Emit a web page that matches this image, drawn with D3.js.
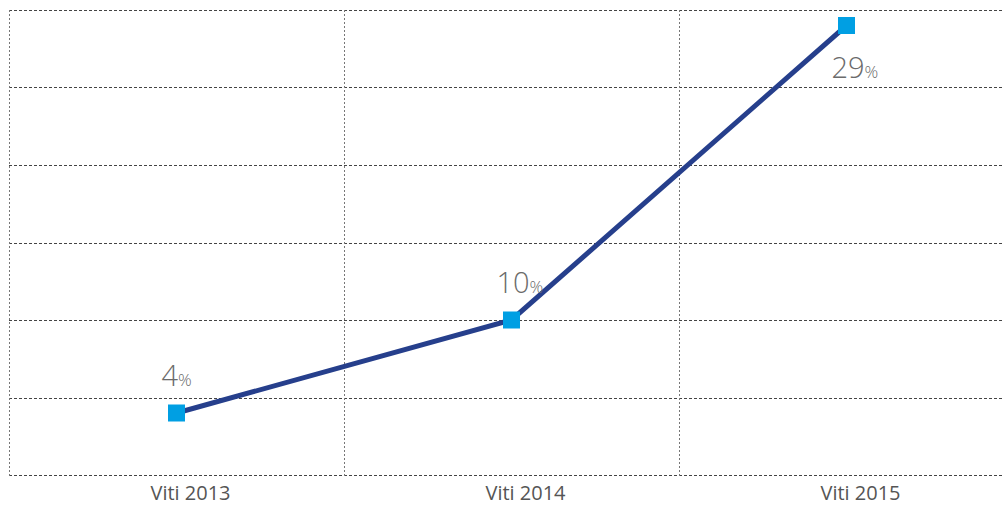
<!DOCTYPE html>
<html>
<head>
<meta charset="utf-8">
<script src="https://cdn.jsdelivr.net/npm/d3@7"></script>
<style>
  body { margin: 0; background: #fff; }
  text { font-family: "Open Sans", "Noto Sans", sans-serif; }
</style>
</head>
<body>
<script>
//Data
var categories = ["Viti 2013", "Viti 2014", "Viti 2015"];
var values = [4, 10, 29];
var yTicks = [0, 5, 10, 15, 20, 25, 30];

//Width and height
var w = 1006;
var h = 505;
var margin = {top: 10, right: -8, bottom: 30, left: 9};

var svg = d3.select("body")
            .append("svg")
            .attr("width", w)
            .attr("height", h);

var x = d3.scaleBand()
          .domain(categories)
          .range([margin.left, w - margin.right])
          .padding(0);

var y = d3.scaleLinear()
          .domain([0, 30])
          .range([h - margin.bottom, margin.top]);

//Horizontal grid
svg.append("g")
   .selectAll("line")
   .data(yTicks)
   .enter()
   .append("line")
   .attr("x1", margin.left)
   .attr("x2", 1004)
   .attr("y1", function(d) { return Math.round(y(d)) + 0.5; })
   .attr("y2", function(d) { return Math.round(y(d)) + 0.5; })
   .attr("stroke", "#444")
   .attr("stroke-width", 1)
   .attr("stroke-dasharray", "3,2");

//Vertical grid (band edges)
svg.append("g")
   .selectAll("line")
   .data(categories)
   .enter()
   .append("line")
   .attr("x1", function(d) { return Math.round(x(d)) + 0.5; })
   .attr("x2", function(d) { return Math.round(x(d)) + 0.5; })
   .attr("y1", margin.top)
   .attr("y2", y(0) + 2)
   .attr("stroke", "#777")
   .attr("stroke-width", 1)
   .attr("stroke-dasharray", "2,2");

function cx(d) { return x(d) + x.bandwidth() / 2; }

//Line
var line = d3.line()
             .x(function(d, i) { return cx(categories[i]); })
             .y(function(d) { return y(d); });

svg.append("path")
   .datum(values)
   .attr("d", line)
   .attr("fill", "none")
   .attr("stroke", "#263f8c")
   .attr("stroke-width", 5);

//Markers
svg.selectAll("rect.marker")
   .data(values)
   .enter()
   .append("rect")
   .attr("class", "marker")
   .attr("x", function(d, i) { return cx(categories[i]) - 8.5; })
   .attr("y", function(d) { return y(d) - 8.5; })
   .attr("width", 17)
   .attr("height", 17)
   .attr("fill", "#009fe3");

//Value labels
var labels = svg.selectAll("text.value")
   .data(values)
   .enter()
   .append("text")
   .attr("class", "value")
   .attr("x", function(d, i) { return cx(categories[i]) - 15; })
   .attr("y", function(d, i) { return i < 2 ? y(d) - 27 : y(d) + 52; })
   .attr("fill", "#6b6b6b")
   .attr("font-weight", 300)
   .attr("font-size", 29);

labels.append("tspan").text(function(d) { return d; });
labels.append("tspan").attr("font-size", 17).text("%");

//Category labels
svg.selectAll("text.cat")
   .data(categories)
   .enter()
   .append("text")
   .attr("class", "cat")
   .attr("x", function(d) { return cx(d) + 14; })
   .attr("y", 500)
   .attr("text-anchor", "middle")
   .attr("fill", "#555")
   .attr("font-size", 20)
   .text(function(d) { return d; });
</script>
</body>
</html>
